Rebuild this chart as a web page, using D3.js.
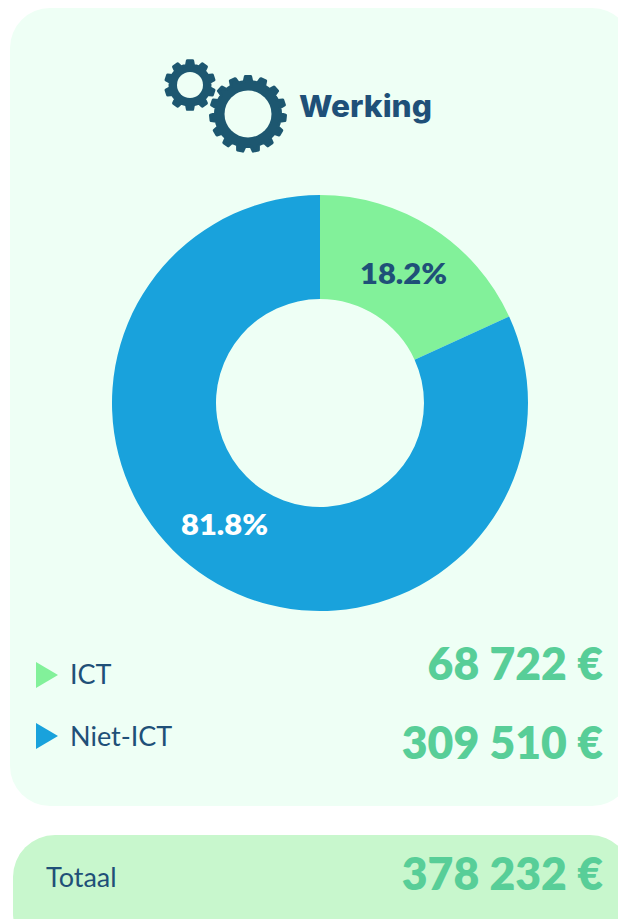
<!DOCTYPE html>
<html><head><meta charset="utf-8">
<script src="https://cdn.jsdelivr.net/npm/d3@7"></script>
<style>html,body{margin:0;padding:0;background:#fff;overflow:hidden}svg{display:block}</style>
</head><body><svg id="c" width="618" height="919"></svg>
<script>
const title = "Werking";
const categories = ["ICT", "Niet-ICT"];
const values = [68722, 309510];
const valueLabels = ["68 722 €", "309 510 €"];
const percentLabels = ["18.2%", "81.8%"];
const colors = ["#82F19A", "#19A2DC"];
const percentColors = ["#1F5078", "#FFFFFF"];
const totalLabel = "Totaal";
const totalValue = "378 232 €";

const svg = d3.select("#c");
const font = "Lato, 'Noto Sans', sans-serif";
const navy = "#1F5078", green = "#58CE98";

svg.append("rect").attr("x",10).attr("y",8).attr("width",622).attr("height",798).attr("rx",40).attr("fill","#EEFFF5");
svg.append("rect").attr("x",13).attr("y",835).attr("width",619).attr("height",120).attr("rx",42).attr("fill","#C8F7CD");

function gear(cx,cy,ro,ri,teeth){
  const pts=[];
  for(let i=0;i<teeth;i++){
    const a=i/teeth*2*Math.PI, w=2*Math.PI/teeth;
    [[-.5,ri],[-.28,ri],[-.17,ro],[.17,ro],[.28,ri]].forEach(([f,r])=>{
      const t=a+f*w; pts.push([cx+r*Math.sin(t),cy-r*Math.cos(t)]);
    });
  }
  const p=d3.path();
  pts.forEach((q,i)=>i?p.lineTo(q[0],q[1]):p.moveTo(q[0],q[1]));
  p.closePath();
  return p.toString();
}
const gears=svg.append("g").attr("stroke","#1D5770").attr("stroke-width",3).attr("stroke-linejoin","round");
[[190,85,24.5,20,13,10],[248,114,37.5,32.5,23.5,15]].forEach(([x,y,ro,ri,h,n])=>{
  gears.append("path").attr("d",gear(x,y,ro,ri,n)).attr("fill","#1D5770");
  gears.append("circle").attr("cx",x).attr("cy",y).attr("r",h).attr("fill","#EEFFF5").attr("stroke","none");
});

svg.append("text").attr("x",299).attr("y",117).attr("font-family","Inter, sans-serif").attr("font-weight",800).attr("font-size",30).attr("fill",navy).attr("textLength",133).attr("lengthAdjust","spacingAndGlyphs").text(title);

const pie=d3.pie().sort(null)(values);
const arc=d3.arc().innerRadius(104).outerRadius(208);
const g=svg.append("g").attr("transform","translate(320,403)");
g.selectAll("path").data(pie).join("path").attr("d",arc).attr("fill",(d,i)=>colors[i]);
const labelPos=[[83,-119],[-96,132]];
g.selectAll("text").data(pie).join("text")
 .attr("x",(d,i)=>labelPos[i][0]-43).attr("y",(d,i)=>labelPos[i][1]).attr("font-family",font).attr("font-weight",800).attr("font-size",29)
 .attr("textLength",87).attr("lengthAdjust","spacingAndGlyphs")
 .attr("fill",(d,i)=>percentColors[i]).text((d,i)=>percentLabels[i]);

const legendY=[675,736], legendTextY=[684,746], valueY=[680,759];
categories.forEach((c,i)=>{
  svg.append("path").attr("d",d3.line()([[36,legendY[i]-13],[58,legendY[i]],[36,legendY[i]+13]])+"Z").attr("fill",colors[i]);
  svg.append("text").attr("x",70).attr("y",legendTextY[i]).attr("font-family",font).attr("font-size",27).attr("fill",navy).text(c);
  svg.append("text").attr("x",603).attr("y",valueY[i]).attr("text-anchor","end").attr("font-family",font).attr("font-weight",800).attr("font-size",44.5).attr("fill",green).text(valueLabels[i]);
});
svg.append("text").attr("x",46).attr("y",887).attr("font-family",font).attr("font-size",27).attr("fill",navy).text(totalLabel);
svg.append("text").attr("x",603).attr("y",890).attr("text-anchor","end").attr("font-family",font).attr("font-weight",800).attr("font-size",44.5).attr("fill",green).text(totalValue);
</script></body></html>
